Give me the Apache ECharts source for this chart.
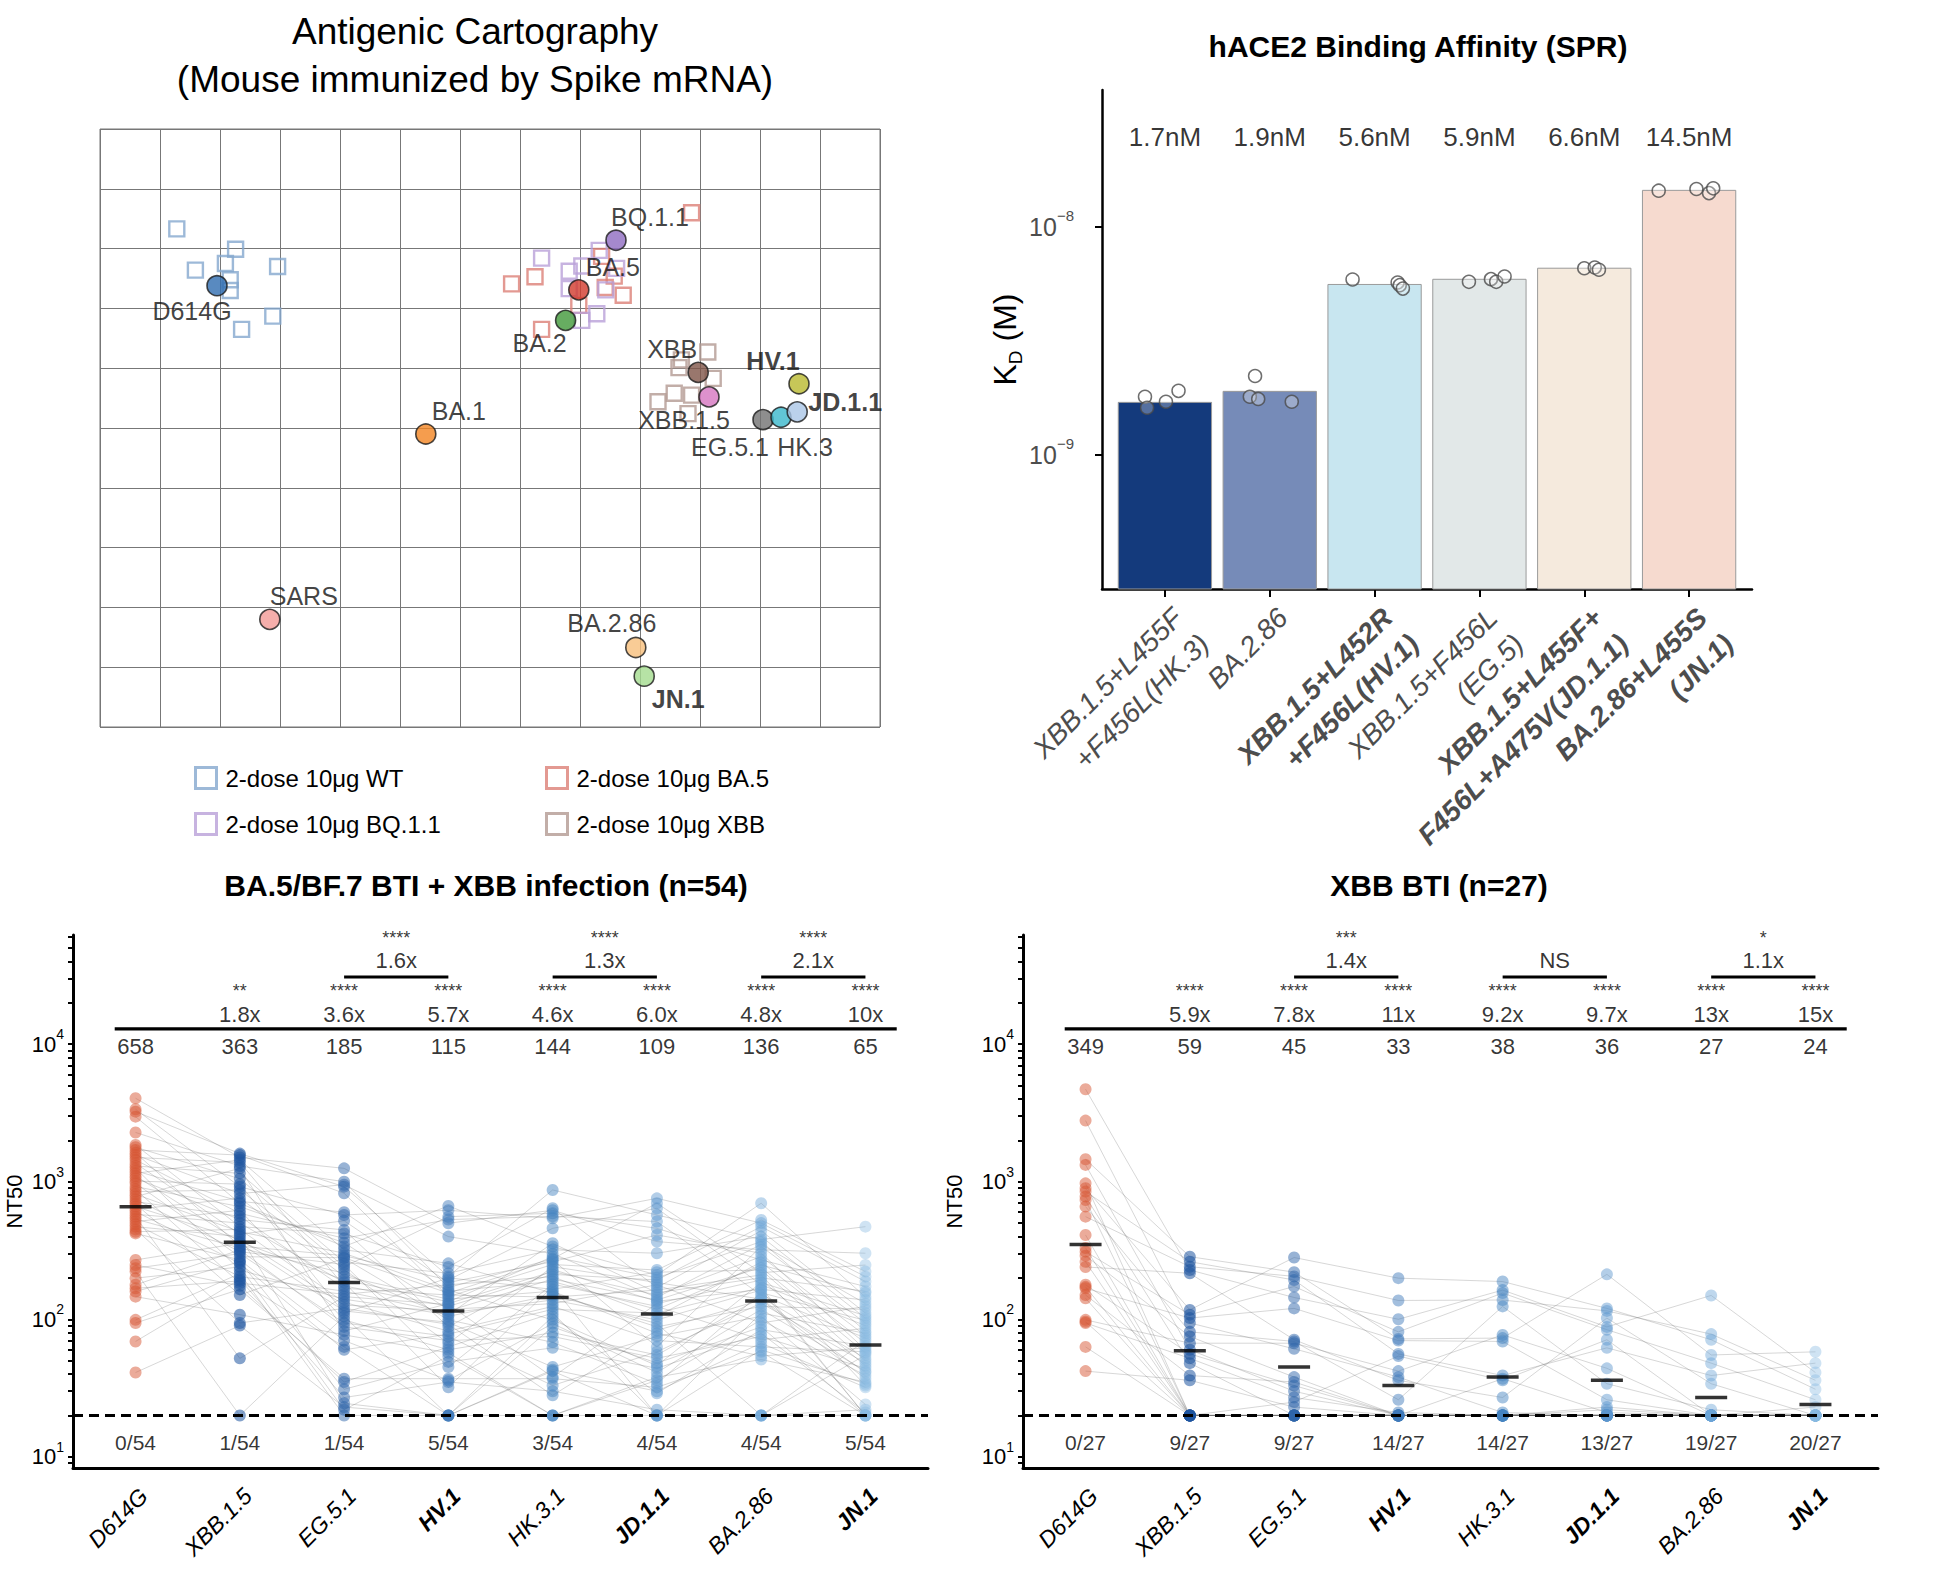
<!DOCTYPE html>
<html>
<head>
<meta charset="utf-8">
<title>Antigenic cartography, hACE2 binding and neutralization</title>
<script src="https://cdn.jsdelivr.net/npm/echarts@6.0.0/dist/echarts.min.js"></script>
<style>
html,body{margin:0;padding:0;background:#fff;}
#chart{width:1938px;height:1576px;}
</style>
</head>
<body>
<div id="chart"></div>
<script>
const FONT = "'Liberation Sans', Arial, Helvetica, sans-serif";

// ================= DATA =================
// ---- Panel A: antigenic map (map units; 1 unit = 1 grid square) ----
const antigenNames = ['D614G','BA.1','BA.2','BA.5','BQ.1.1','XBB','XBB.1.5','EG.5.1','HV.1','HK.3','JD.1.1','BA.2.86','JN.1','SARS'];
const antigenX = [1.95,5.43,7.76,7.98,8.60,9.97,10.15,11.05,11.65,11.35,11.62,8.93,9.07,2.83];
const antigenY = [7.38,4.90,6.80,7.31,8.14,5.93,5.52,5.14,5.74,5.18,5.27,1.33,0.85,1.80];

const seraNames = ['2-dose 10μg WT','2-dose 10μg BA.5','2-dose 10μg BQ.1.1','2-dose 10μg XBB'];
const seraWTX  = [1.28,2.26,1.59,2.09,2.96,2.17,2.17,2.88,2.36];
const seraWTY  = [8.33,7.99,7.64,7.75,7.70,7.48,7.30,6.87,6.65];
const seraBA5X = [9.86,6.86,7.25,8.72,7.36,8.36,8.57,8.42,7.98];
const seraBA5Y = [8.60,7.41,7.53,7.22,6.65,7.87,7.54,7.35,7.05];
const seraBQ11X = [7.36,8.32,7.82,8.03,8.61,7.82,8.28,8.03,8.43];
const seraBQ11Y = [7.84,7.97,7.62,7.71,7.67,7.33,6.91,6.80,7.31];
const seraXBBX = [10.13,9.69,10.22,9.57,9.30,9.86,9.80,9.65];
const seraXBBY = [6.27,6.14,5.83,5.58,5.44,5.55,5.24,6.01];

// ---- Panel B: hACE2 SPR ----
const sprCategories = ['XBB.1.5+L455F\n+F456L(HK.3)','BA.2.86','XBB.1.5+L452R\n+F456L(HV.1)','XBB.1.5+F456L\n(EG.5)','XBB.1.5+L455F+\nF456L+A475V(JD.1.1)','BA.2.86+L455S\n(JN.1)'];
const sprBoldCat = [false,false,true,false,true,true];
const sprKDnM = [1.7,1.9,5.6,5.9,6.6,14.5];
const sprKDLabels = ['1.7nM','1.9nM','5.6nM','5.9nM','6.6nM','14.5nM'];
const sprRepKDnM = [[1.80,1.61,1.71,1.91],[2.22,1.80,1.76,1.71],[5.89,5.71,5.56,5.37],[5.75,5.91,5.75,6.07],[6.60,6.65,6.50],[14.45,14.70,14.10,14.80]];
const sprRepJitter = [[-0.19,-0.17,0.01,0.13],[-0.14,-0.19,-0.11,0.21],[-0.21,0.22,0.24,0.27],[-0.10,0.11,0.16,0.24],[0.00,0.10,0.14],[-0.29,0.07,0.19,0.23]];

// ---- Panels C / D: NT50 ----
const dotCategories = ['D614G','XBB.1.5','EG.5.1','HV.1','HK.3.1','JD.1.1','BA.2.86','JN.1'];
const dotBoldCat = [false,false,false,true,false,true,false,true];
const yTickLabels = [1,2,3,4]; // 10^1 .. 10^4

// Panel C (n=54). D614G in subject order; other variants sorted high->low,
// with each subject's rank in that variant given by cRank*.
const cD614G = [4040,3360,3230,2970,2280,1850,1780,1700,1620,1565,1500,1440,1360,1300,1250,1200,1150,1100,1060,1010,973,920,880,847,810,779,745,716,690,659,630,606,580,557,535,513,490,471,450,433,421,270,248,235,222,199,178,168,159,146,99,94,69,41];
const cXBB15 = [1600,1560,1500,1440,1380,1300,1250,1150,1050,960,920,871,820,760,720,697,659,620,589,560,530,500,471,450,433,415,399,380,365,357,340,330,319,310,300,285,270,262,255,240,228,215,204,195,190,183,175,165,150,108,94,90,52,20];
const cEG51 = [1250,1000,950,920,824,600,573,520,446,420,388,360,338,320,302,290,280,278,260,250,241,230,216,205,193,185,175,168,160,152,146,140,133,127,120,115,111,105,99,94,88,82,77,70,63,60,37,35,31,27,24.5,23,22,20];
const cHV1 = [667,620,557,530,499,399,255,240,216,205,200,193,185,178,170,163,160,155,150,146,140,134,130,128,124,118,115,111,108,105,99,95,92,88,82,78,75,70,67,63,60,57,54,49,45,37,36,35,32,20,20,20,20,20];
const cHK31 = [871,641,620,589,560,542,458,357,338,320,300,285,275,270,262,250,241,230,222,212,204,196,188,180,173,165,160,155,150,145,138,130,124,118,111,105,99,93,88,80,75,68,62,45,43,42,38,37,33,30,28,20,20,20];
const cJD11 = [757,697,641,573,513,458,410,367,302,228,220,210,200,193,185,178,170,163,156,150,144,138,135,130,124,118,111,105,99,93,88,83,79,75,70,63,58,55,52,48,46,44,41,38,36,34,32,30,29,22,20,20,20,20];
const cBA286 = [697,527,500,471,440,399,380,367,350,338,320,302,285,270,260,248,238,228,218,210,200,193,185,178,170,165,163,156,150,144,140,138,131,124,118,111,105,99,94,88,84,79,75,71,67,63,60,58,54,51,20,20,20,20];
const cJN1 = [471,302,248,222,204,188,173,160,155,145,138,130,124,118,111,106,102,98,94,90,86,82,79,76,73,70,67,64,62,60,58,57,55,52,50,48,46,44,42,41,39,37,35,34,33,32,24,22,21,20,20,20,20,20];
const cRankXBB15 = [2,10,0,15,5,22,8,1,30,12,4,18,25,7,40,14,3,28,20,9,35,16,45,11,24,6,33,19,48,27,13,38,21,52,31,17,42,26,50,23,36,29,46,34,53,39,32,44,37,49,41,47,43,51];
const cRankEG51 = [0,6,3,12,1,9,20,4,15,2,26,10,7,18,31,5,13,24,8,36,16,11,29,21,14,41,19,27,17,33,23,45,25,30,22,38,28,50,34,32,43,35,47,39,37,52,40,44,48,42,53,46,49,51];
const cRankHV1 = [4,1,9,0,14,7,2,19,11,5,24,3,16,8,28,12,6,21,33,10,17,25,13,38,15,22,44,18,30,26,20,35,48,23,29,40,27,51,32,34,46,31,39,36,52,42,37,49,43,41,53,45,47,50];
const cRankHK31 = [2,5,0,8,12,1,3,15,6,10,19,4,22,9,7,14,27,11,17,25,13,31,20,16,36,18,23,29,41,21,26,33,24,46,28,39,30,35,50,32,37,43,34,48,38,53,40,45,42,51,44,47,49,52];
const cRankJD11 = [7,0,3,11,1,16,5,9,2,20,13,4,25,8,18,6,30,12,22,10,35,15,27,14,40,19,24,17,45,21,32,26,50,23,29,37,28,48,31,34,42,33,53,36,39,44,38,51,41,43,47,46,49,52];
const cRankBA286 = [10,2,6,0,18,4,13,1,23,8,3,28,15,5,20,11,33,7,25,17,9,38,14,30,22,12,43,19,27,16,48,24,35,21,53,29,26,40,31,45,34,36,51,32,39,37,42,46,41,49,44,47,50,52];
const cRankJN1 = [1,4,0,9,2,14,6,3,19,11,5,24,8,16,7,29,13,21,10,34,18,12,26,39,15,23,20,44,17,31,28,49,22,36,25,33,53,27,41,30,38,46,32,35,51,40,37,43,48,42,45,50,47,52];
const cGMT = [658,363,185,115,144,109,136,65];
const cStars = ['','**','****','****','****','****','****','****'];
const cFolds = ['','1.8x','3.6x','5.7x','4.6x','6.0x','4.8x','10x'];
const cFractions = ['0/54','1/54','1/54','5/54','3/54','4/54','4/54','5/54'];
const cPairStars = ['****','****','****'];
const cPairFolds = ['1.6x','1.3x','2.1x'];

// Panel D (n=27)
const dD614G = [4700,2780,1455,1324,973,895,847,779,736,659,557,410,330,310,290,262,240,178,172,168,150,142,99,96,94,63,42];
const dXBB15 = [285,262,241,228,216,117,108,102,94,81,75,67,60,56,52,48,39,36,20,20,20,20,20,20,20,20,20];
const dEG51 = [281,220,205,193,173,144,120,71,69,67,61,38,35,33,30,27,25,23,20,20,20,20,20,20,20,20,20];
const dHV1 = [199,137,100,81,72,70,56,54,42,38,36,26,21,20,20,20,20,20,20,20,20,20,20,20,20,20,20];
const dHK31 = [188,163,155,138,124,77,73,69,39,37,36,27,21,20,20,20,20,20,20,20,20,20,20,20,20,20,20];
const dJD11 = [212,120,115,102,88,84,71,62,44,34,26,23,22,21,20,20,20,20,20,20,20,20,20,20,20,20,20];
const dBA286 = [149,78,71,55,48,39,34,22,20,20,20,20,20,20,20,20,20,20,20,20,20,20,20,20,20,20,20];
const dJN1 = [58,48,41,36,31,26,23,20,20,20,20,20,20,20,20,20,20,20,20,20,20,20,20,20,20,20,20];
const dRankXBB15 = [3,8,0,12,20,5,1,15,22,9,2,18,24,6,10,25,4,13,21,7,16,26,11,19,14,23,17];
const dRankEG51 = [5,10,1,14,22,0,3,18,25,8,2,20,16,4,11,23,7,13,19,6,12,26,9,21,15,24,17];
const dRankHV1 = [2,9,4,16,24,0,6,13,20,11,1,25,7,3,15,21,10,17,26,5,14,22,8,19,12,23,18];
const dRankHK31 = [1,12,6,15,23,0,8,17,21,4,3,24,10,2,14,19,11,20,25,7,9,26,5,18,13,22,16];
const dRankJD11 = [4,14,0,11,20,1,7,18,24,9,2,22,6,5,16,25,3,15,21,10,13,26,8,19,12,23,17];
const dRankBA286 = [0,9,3,13,21,2,5,16,24,7,1,19,11,4,14,25,6,18,22,8,12,26,10,20,15,23,17];
const dRankJN1 = [2,11,0,14,22,4,1,17,25,8,3,20,6,5,13,24,9,16,21,7,12,26,10,19,15,23,18];
const dGMT = [349,59,45,33,38,36,27,24];
const dStars = ['','****','****','****','****','****','****','****'];
const dFolds = ['','5.9x','7.8x','11x','9.2x','9.7x','13x','15x'];
const dFractions = ['0/27','9/27','9/27','14/27','14/27','13/27','19/27','20/27'];
const dPairStars = ['***','','*'];
const dPairFolds = ['1.4x','NS','1.1x'];
const comparisonPairs = [[2,3],[4,5],[6,7]];
const detectionLimit = 20;

// ================= STYLES / LAYOUT =================
const antigenColor = {'D614G':'#2f6db0','BA.1':'#f28522','BA.2':'#41993a','BA.5':'#d2392c','BQ.1.1':'#8f6cc0','XBB':'#7f5549','XBB.1.5':'#d676c0','EG.5.1':'#727272','HV.1':'#b9b92e','HK.3':'#3ab8cc','JD.1.1':'#aac6e6','BA.2.86':'#f7bf7c','JN.1':'#a4dc8e','SARS':'#f29a96'};
const antigenLabelOffset = {'D614G':[-25,25],'BA.1':[33,-23],'BA.2':[-26,23],'BA.5':[34,-23],'BQ.1.1':[34,-23],'XBB':[-26,-23],'XBB.1.5':[-25,23],'EG.5.1':[-33,27],'HV.1':[-26,-23],'HK.3':[24,30],'JD.1.1':[48,-10],'BA.2.86':[-24,-24],'JN.1':[34,23],'SARS':[34,-23]};
const antigenBold = ['HV.1','JD.1.1','JN.1'];
const seraColors = ['#84a8ce','#dc7f77','#b9a0d8','#b39a92'];
const sprBarColors = ['#143a7c','#768bb8','#c8e6f0','#e2e8e8','#f5eadd','#f6dacf'];
const dotColors = ['rgba(214,86,50,0.62)','rgba(30,84,160,0.68)','rgba(46,102,170,0.62)','rgba(62,122,186,0.6)','rgba(70,132,192,0.6)','rgba(90,150,205,0.58)','rgba(108,165,214,0.55)','rgba(136,184,224,0.5)'];
const sprLogMin = -9.589, sprLogMax = -7.398;
const dotLogMin = 0.919, dotLogMax = 4.793;
const annoY = {pairStars:4.77, pairFold:4.606, pairBar:4.488, stars:4.385, fold:4.218, bar:4.110, gmt:3.986, frac:1.103};

// ================= BUILD =================
const series = [];

// ---- Panel A ----
const seraX = [seraWTX, seraBA5X, seraBQ11X, seraXBBX];
const seraY = [seraWTY, seraBA5Y, seraBQ11Y, seraXBBY];
seraNames.forEach((nm, g) => {
  series.push({
    type:'scatter', name:nm, xAxisIndex:0, yAxisIndex:0, z:2, silent:true,
    symbol:'rect', symbolSize:15,
    itemStyle:{color:'rgba(255,255,255,0)', borderColor:seraColors[g], borderWidth:2.4},
    data: seraX[g].map((x,i)=>[x, seraY[g][i]])
  });
});
series.push({
  type:'scatter', name:'Antigens', xAxisIndex:0, yAxisIndex:0, z:4, silent:true,
  symbolSize:20,
  itemStyle:{borderColor:'#1a1a1a', borderWidth:1.6},
  label:{show:true, position:'inside', formatter:'{b}', fontSize:25, color:'#111', fontFamily:FONT, textBorderWidth:0},
  data: antigenNames.map((n,i)=>({
    name:n, value:[antigenX[i], antigenY[i]],
    itemStyle:{color:antigenColor[n]},
    label:{offset:antigenLabelOffset[n], fontWeight: antigenBold.includes(n) ? 'bold' : 'normal'}
  }))
});

// ---- Panel B ----
series.push({
  type:'custom', xAxisIndex:1, yAxisIndex:1, z:2, silent:true,
  data: sprKDnM.map((v,i)=>[i, Math.log10(v*1e-9)]),
  renderItem:(params, api)=>{
    const i = params.dataIndex;
    const top = api.coord([api.value(0), api.value(1)]);
    const bot = api.coord([api.value(0), sprLogMin]);
    const w = api.size([0.89, 0])[0];
    return {type:'rect', shape:{x:top[0]-w/2, y:top[1], width:w, height:bot[1]-top[1]},
            style:{fill:sprBarColors[i], stroke:'#9a9a9a', lineWidth:1}};
  }
});
const sprRepData = [];
sprRepKDnM.forEach((reps,i)=>reps.forEach((v,j)=>sprRepData.push([i + sprRepJitter[i][j], Math.log10(v*1e-9)])));
series.push({
  type:'scatter', xAxisIndex:1, yAxisIndex:1, z:4, silent:true, symbolSize:13,
  itemStyle:{color:'rgba(255,255,255,0.35)', borderColor:'#4a4a4a', borderWidth:1.5},
  data: sprRepData
});
function textSeries(gi, items, fontSize, lineHeight) {
  return {
    type:'scatter', xAxisIndex:gi, yAxisIndex:gi, symbolSize:0, silent:true, z:8,
    label:{show:true, position:'inside', formatter:'{b}', color:'#000', fontSize:fontSize, lineHeight:lineHeight || fontSize, fontFamily:FONT, textBorderWidth:0},
    data: items.filter(it=>it.t!=='').map(it=>({name:it.t, value:[it.x, it.y]}))
  };
}
series.push(textSeries(1, sprKDLabels.map((t,i)=>({t, x:i, y:-7.604})), 26));

// ---- Panels C / D ----
function buildDotPanel(gi, first, sorted, ranks, gmt, stars, folds, fracs, pStars, pFolds) {
  const n = first.length;
  const cols = [first].concat(sorted);
  // per-subject polylines
  for (let s=0; s<n; s++) {
    const row = [first[s]];
    for (let k=0; k<sorted.length; k++) row.push(sorted[k][ranks[k][s]]);
    series.push({
      type:'line', xAxisIndex:gi, yAxisIndex:gi, symbol:'none', silent:true, z:1,
      lineStyle:{color:'rgba(100,100,100,0.26)', width:1},
      data: row.map((v,k)=>[k, Math.log10(v)])
    });
  }
  cols.forEach((vals,k)=>{
    series.push({
      type:'scatter', xAxisIndex:gi, yAxisIndex:gi, silent:true, z:3, symbolSize:12,
      itemStyle:{color:dotColors[k]},
      data: vals.map(v=>[k, Math.log10(v)])
    });
  });
  // limit of detection
  series.push({
    type:'line', xAxisIndex:gi, yAxisIndex:gi, symbol:'none', silent:true, z:5,
    lineStyle:{color:'#000', width:3, type:[10,6]},
    data:[[-0.6, Math.log10(detectionLimit)], [7.6, Math.log10(detectionLimit)]]
  });
  // geometric mean bars
  series.push({
    type:'scatter', xAxisIndex:gi, yAxisIndex:gi, silent:true, z:6, symbol:'rect', symbolSize:[32,3.5],
    itemStyle:{color:'#000'},
    data: gmt.map((g,k)=>[k, Math.log10(g)])
  });
  // comparison lines
  series.push({
    type:'line', xAxisIndex:gi, yAxisIndex:gi, symbol:'none', silent:true, z:6,
    lineStyle:{color:'#000', width:3.2},
    data:[[-0.2, annoY.bar], [7.3, annoY.bar]]
  });
  comparisonPairs.forEach(p=>{
    series.push({
      type:'line', xAxisIndex:gi, yAxisIndex:gi, symbol:'none', silent:true, z:6,
      lineStyle:{color:'#000', width:3},
      data:[[p[0], annoY.pairBar], [p[1], annoY.pairBar]]
    });
  });
  series.push(textSeries(gi, stars.map((t,k)=>({t, x:k, y:annoY.stars})), 18, 11));
  series.push(textSeries(gi, folds.map((t,k)=>({t, x:k, y:annoY.fold})), 22, 18));
  series.push(textSeries(gi, gmt.map((g,k)=>({t:String(g), x:k, y:annoY.gmt})), 22, 20));
  series.push(textSeries(gi, fracs.map((t,k)=>({t, x:k, y:annoY.frac})), 21, 20));
  series.push(textSeries(gi, pStars.map((t,j)=>({t, x:(comparisonPairs[j][0]+comparisonPairs[j][1])/2, y:annoY.pairStars})), 18, 11));
  series.push(textSeries(gi, pFolds.map((t,j)=>({t, x:(comparisonPairs[j][0]+comparisonPairs[j][1])/2, y:annoY.pairFold})), 22, 18));
}
buildDotPanel(2, cD614G, [cXBB15,cEG51,cHV1,cHK31,cJD11,cBA286,cJN1],
  [cRankXBB15,cRankEG51,cRankHV1,cRankHK31,cRankJD11,cRankBA286,cRankJN1],
  cGMT, cStars, cFolds, cFractions, cPairStars, cPairFolds);
buildDotPanel(3, dD614G, [dXBB15,dEG51,dHV1,dHK31,dJD11,dBA286,dJN1],
  [dRankXBB15,dRankEG51,dRankHV1,dRankHK31,dRankJD11,dRankBA286,dRankJN1],
  dGMT, dStars, dFolds, dFractions, dPairStars, dPairFolds);

// ---- axes ----
const dotTicks = [];
for (let k=0; k<=4; k++) for (let m=1; m<=9; m++) {
  const t = k + Math.log10(m);
  if (t >= dotLogMin && t <= dotLogMax) dotTicks.push(t);
}
function dotXAxis(gi) {
  return {
    gridIndex:gi, type:'value', min:-0.6, max:7.6,
    axisLine:{show:true, onZero:false, lineStyle:{color:'#000', width:3}},
    axisTick:{show:false}, splitLine:{show:false},
    axisLabel:{
      show:true, customValues:[0,1,2,3,4,5,6,7], rotate:45, align:'right', verticalAlign:'top', margin:16,
      formatter:(v)=>{ const i = Math.round(v); return (dotBoldCat[i] ? '{b|' : '{n|') + dotCategories[i] + '}'; },
      rich:{
        n:{fontSize:23, fontStyle:'italic', color:'#000', fontFamily:FONT},
        b:{fontSize:23, fontStyle:'italic', fontWeight:'bold', color:'#000', fontFamily:FONT}
      }
    }
  };
}
function dotYAxis(gi, gap) {
  return {
    gridIndex:gi, type:'value', min:dotLogMin, max:dotLogMax,
    name:'NT50', nameLocation:'middle', nameGap:gap, nameTextStyle:{fontSize:22, color:'#000', fontFamily:FONT},
    axisLine:{show:true, onZero:false, lineStyle:{color:'#000', width:3}},
    axisTick:{show:true, customValues:dotTicks, length:5, lineStyle:{color:'#000', width:2}},
    splitLine:{show:false},
    axisLabel:{
      show:true, customValues:yTickLabels, margin:9,
      formatter:(v)=>'{n|10}{s|' + Math.round(v) + '}',
      rich:{
        n:{fontSize:22, lineHeight:34, color:'#000', fontFamily:FONT},
        s:{fontSize:14, lineHeight:14, verticalAlign:'top', color:'#000', fontFamily:FONT}
      }
    }
  };
}

const option = {
  animation:false,
  backgroundColor:'#fff',
  textStyle:{fontFamily:FONT},
  graphic:[
    {type:'text', x:475, y:31, style:{text:'Antigenic Cartography', fontSize:37, fontFamily:FONT, fill:'#000', align:'center', verticalAlign:'middle'}},
    {type:'text', x:475, y:79, style:{text:'(Mouse immunized by Spike mRNA)', fontSize:37, fontFamily:FONT, fill:'#000', align:'center', verticalAlign:'middle'}},
    {type:'text', x:1418, y:46, style:{text:'hACE2 Binding Affinity (SPR)', fontSize:30, fontWeight:'bold', fontFamily:FONT, fill:'#000', align:'center', verticalAlign:'middle'}},
    {type:'text', x:486, y:885, style:{text:'BA.5/BF.7 BTI + XBB infection (n=54)', fontSize:30, fontWeight:'bold', fontFamily:FONT, fill:'#000', align:'center', verticalAlign:'middle'}},
    {type:'text', x:1439, y:885, style:{text:'XBB BTI (n=27)', fontSize:30, fontWeight:'bold', fontFamily:FONT, fill:'#000', align:'center', verticalAlign:'middle'}}
  ],
  legend: seraNames.map((nm,g)=>({
    data:[{name:nm, itemStyle:{color:'rgba(255,255,255,0)', borderColor:seraColors[g], borderWidth:3}}],
    left: g % 2 === 0 ? 189 : 540,
    top: g < 2 ? 761 : 807,
    icon:'rect', itemWidth:21, itemHeight:21, selectedMode:false,
    textStyle:{fontSize:24, color:'#000', fontFamily:FONT, padding:[0,0,0,4]}
  })),
  grid:[
    {left:100, top:129, width:780, height:598, show:true, borderColor:'#777', borderWidth:1, outerBoundsMode:'none'},
    {left:1102, top:90, width:650, height:499, outerBoundsMode:'none'},
    {left:73, top:935, width:855, height:533, outerBoundsMode:'none'},
    {left:1023, top:935, width:855, height:533, outerBoundsMode:'none'}
  ],
  xAxis:[
    {gridIndex:0, type:'value', min:0, max:13, interval:1, axisLine:{show:false}, axisTick:{show:false}, axisLabel:{show:false},
     splitLine:{show:true, lineStyle:{color:'#777', width:1}}},
    {gridIndex:1, type:'value', min:-0.6, max:5.6,
     axisLine:{show:true, onZero:false, lineStyle:{color:'#000', width:2.5}},
     axisTick:{show:true, customValues:[0,1,2,3,4,5], length:8, lineStyle:{color:'#000', width:2}},
     splitLine:{show:false},
     axisLabel:{show:true, customValues:[0,1,2,3,4,5], rotate:45, align:'right', verticalAlign:'top', margin:11,
       formatter:(v)=>{ const i = Math.round(v); const st = sprBoldCat[i] ? 'b' : 'n';
         return sprCategories[i].split('\n').map(s=>'{' + st + '|' + s + '}').join('\n'); },
       rich:{
         n:{fontSize:28, lineHeight:37, fontStyle:'italic', color:'#4d4d4d', fontFamily:FONT, align:'right'},
         b:{fontSize:28, lineHeight:37, fontStyle:'italic', fontWeight:'bold', color:'#4d4d4d', fontFamily:FONT, align:'right'}
       }}},
    dotXAxis(2), dotXAxis(3)
  ],
  yAxis:[
    {gridIndex:0, type:'value', min:0, max:10, interval:1, axisLine:{show:false}, axisTick:{show:false}, axisLabel:{show:false},
     splitLine:{show:true, lineStyle:{color:'#777', width:1}}},
    {gridIndex:1, type:'value', min:sprLogMin, max:sprLogMax,
     name:'{k|K}{d|D}{k| (M)}', nameLocation:'middle', nameGap:76,
     nameTextStyle:{color:'#000', fontFamily:FONT, rich:{
       k:{fontSize:32, lineHeight:40, color:'#000', fontFamily:FONT},
       d:{fontSize:19, lineHeight:20, verticalAlign:'bottom', color:'#000', fontFamily:FONT}}},
     axisLine:{show:true, onZero:false, lineStyle:{color:'#000', width:2.5}},
     axisTick:{show:true, customValues:[-9,-8], length:7, lineStyle:{color:'#000', width:2}},
     splitLine:{show:false},
     axisLabel:{show:true, customValues:[-9,-8], margin:28,
       formatter:(v)=>'{n|10}{s|\u2212' + Math.abs(Math.round(v)) + '}',
       rich:{
         n:{fontSize:25, lineHeight:38, color:'#4d4d4d', fontFamily:FONT},
         s:{fontSize:15, lineHeight:16, verticalAlign:'top', color:'#4d4d4d', fontFamily:FONT}
       }}},
    dotYAxis(2, 48), dotYAxis(3, 58)
  ],
  series: series
};

const chart = echarts.init(document.getElementById('chart'), null, {renderer:'svg', width:1938, height:1576});
chart.setOption(option);
</script>
</body>
</html>
